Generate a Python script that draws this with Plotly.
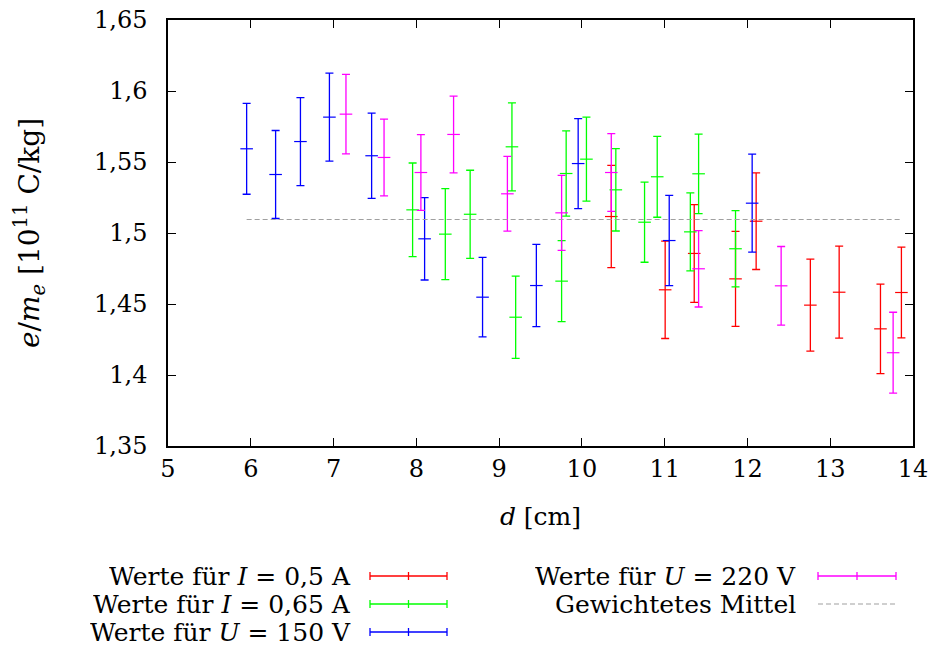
import plotly.graph_objects as go

# ---------------- data ----------------
d_I05 = [10.355, 11.006, 11.357, 11.856, 12.105, 12.76, 13.108, 13.607, 13.86]
v_I05 = [1.5116, 1.4600, 1.4856, 1.4677, 1.5083, 1.4492, 1.4583, 1.4325, 1.4581]
e_I05 = [0.036, 0.0343, 0.0344, 0.0335, 0.034, 0.0324, 0.0324, 0.0315, 0.032]

d_I065 = [7.955, 8.35, 8.65, 9.155, 9.20, 9.755, 9.81, 10.055, 10.41, 10.757, 10.91, 11.31, 11.41, 11.856]
v_I065 = [1.5163, 1.4992, 1.5132, 1.5607, 1.4407, 1.4661, 1.5419, 1.5520, 1.5304, 1.5076, 1.5396, 1.5008, 1.5417, 1.4889]
e_I065 = [0.033, 0.032, 0.031, 0.031, 0.029, 0.0285, 0.030, 0.0296, 0.029, 0.0282, 0.0285, 0.0275, 0.028, 0.0268]

d_U150 = [5.95, 6.30, 6.60, 6.95, 7.46, 8.10, 8.80, 9.45, 9.955, 11.055, 12.057]
v_U150 = [1.5593, 1.5412, 1.5644, 1.5816, 1.5544, 1.4959, 1.4548, 1.4630, 1.5489, 1.4947, 1.5210]
e_U150 = [0.032, 0.031, 0.031, 0.031, 0.030, 0.029, 0.028, 0.029, 0.0317, 0.0318, 0.0345]

d_U220 = [7.15, 7.61, 8.055, 8.45, 9.10, 9.755, 10.355, 11.41, 12.407, 13.76]
v_U220 = [1.5837, 1.5532, 1.5426, 1.5694, 1.5276, 1.5142, 1.5426, 1.4748, 1.4628, 1.4157]
e_U220 = [0.028, 0.027, 0.0267, 0.027, 0.0263, 0.0264, 0.0274, 0.0269, 0.0277, 0.0285]

mean_x = [5.95, 13.86]
mean_value = 1.5095

x_ticks = [5, 6, 7, 8, 9, 10, 11, 12, 13, 14]
y_ticks = [1.35, 1.40, 1.45, 1.50, 1.55, 1.60, 1.65]
y_ticklabels = ["1,35", "1,4", "1,45", "1,5", "1,55", "1,6", "1,65"]

series = [
    ("Werte für <i>I</i> = 0,5 A", d_I05, v_I05, e_I05, "#ff0000"),
    ("Werte für <i>I</i> = 0,65 A", d_I065, v_I065, e_I065, "#00ff00"),
    ("Werte für <i>U</i> = 150 V", d_U150, v_U150, e_U150, "#0000ff"),
    ("Werte für <i>U</i> = 220 V", d_U220, v_U220, e_U220, "#ff00ff"),
]
mean_label = "Gewichtetes Mittel"
mean_color = "#a0a0a0"

FONT = "DejaVu Serif"
FS = 24
FS_LEG = 25

fig = go.Figure()
for name, xs, ys, es, col in series:
    fig.add_trace(go.Scatter(
        x=xs, y=ys, mode="markers", name=name, showlegend=False,
        marker=dict(symbol="line-ew", size=9, color=col,
                    line=dict(color=col, width=1.2)),
        error_y=dict(type="data", array=es, visible=True, color=col,
                     thickness=1.3, width=4),
    ))

fig.add_trace(go.Scatter(
    x=mean_x, y=[mean_value] * len(mean_x), mode="lines", showlegend=False,
    line=dict(color=mean_color, width=1.2, dash="5px,3px"),
))

# ---------------- layout ----------------
W, H = 933, 650
L, R, T, B = 168, 20, 20, 204
pw, ph = W - L - R, H - T - B

def px2paper(px, py):
    return (px - L) / pw, (H - B - py) / ph

fig.update_layout(
    width=W, height=H,
    margin=dict(l=L, r=R, t=T, b=B, autoexpand=False),
    paper_bgcolor="white", plot_bgcolor="white",
    font=dict(family=FONT, size=FS, color="black"),
    showlegend=False,
    xaxis=dict(
        range=[5, 14], tickvals=x_ticks, ticktext=[str(t) for t in x_ticks],
        showgrid=False, zeroline=False, showline=True, linecolor="black",
        linewidth=1.5, mirror="ticks", ticks="inside", ticklen=8,
        tickcolor="black", tickwidth=1.2, automargin=False,
        ticklabeloverflow="allow",
        title=dict(text="<i>d</i> [cm]", standoff=26, font=dict(size=25)),
        ticklabelstandoff=0,
    ),
    yaxis=dict(
        range=[1.35, 1.65], tickvals=y_ticks, ticktext=y_ticklabels,
        showgrid=False, zeroline=False, showline=True, linecolor="black",
        linewidth=1.5, mirror="ticks", ticks="inside", ticklen=8,
        tickcolor="black", tickwidth=1.2, automargin=False,
        ticklabeloverflow="allow",
        title=dict(text="<i>e</i>/<i>m<sub>e</sub></i> [10<sup>11</sup> C/kg]",
                   standoff=46, font=dict(size=28)),
        ticklabelstandoff=14,
    ),
)

# ---------------- custom gnuplot-style legend ----------------
rows_y = [576, 604, 632]
legend_items = [
    (series[0][0], series[0][4], "err", 352, 370, 447, rows_y[0]),
    (series[1][0], series[1][4], "err", 352, 370, 447, rows_y[1]),
    (series[2][0], series[2][4], "err", 352, 370, 447, rows_y[2]),
    (series[3][0], series[3][4], "err", 797, 818, 896, rows_y[0]),
    (mean_label, mean_color, "dash", 797, 818, 896, rows_y[1]),
]
for text, col, kind, tx, x0, x1, y in legend_items:
    ax, ay = px2paper(tx, y)
    fig.add_annotation(x=ax, y=ay, xref="paper", yref="paper", text=text,
                       showarrow=False, xanchor="right", yanchor="middle",
                       height=26, borderpad=0,
                       font=dict(family=FONT, size=FS_LEG, color="black"))
    a0, b0 = px2paper(x0, y)
    a1, _ = px2paper(x1, y)
    if kind == "err":
        fig.add_shape(type="line", xref="paper", yref="paper", x0=a0, x1=a1,
                      y0=b0, y1=b0, line=dict(color=col, width=1.3))
        for cx in (x0, x1, (x0 + x1) / 2):
            c, t0 = px2paper(cx, y - 4)
            _, t1 = px2paper(cx, y + 4)
            fig.add_shape(type="line", xref="paper", yref="paper", x0=c, x1=c,
                          y0=t0, y1=t1, line=dict(color=col, width=1.3))
    else:
        fig.add_shape(type="line", xref="paper", yref="paper", x0=a0, x1=a1,
                      y0=b0, y1=b0, line=dict(color=col, width=1.2, dash="5px,3px"))

# remove the browser's default 8px body margin so the figure sits at the page origin
fig.write_html("out.html", config={"displayModeBar": False},
               post_script="document.body.style.margin='0px';")
